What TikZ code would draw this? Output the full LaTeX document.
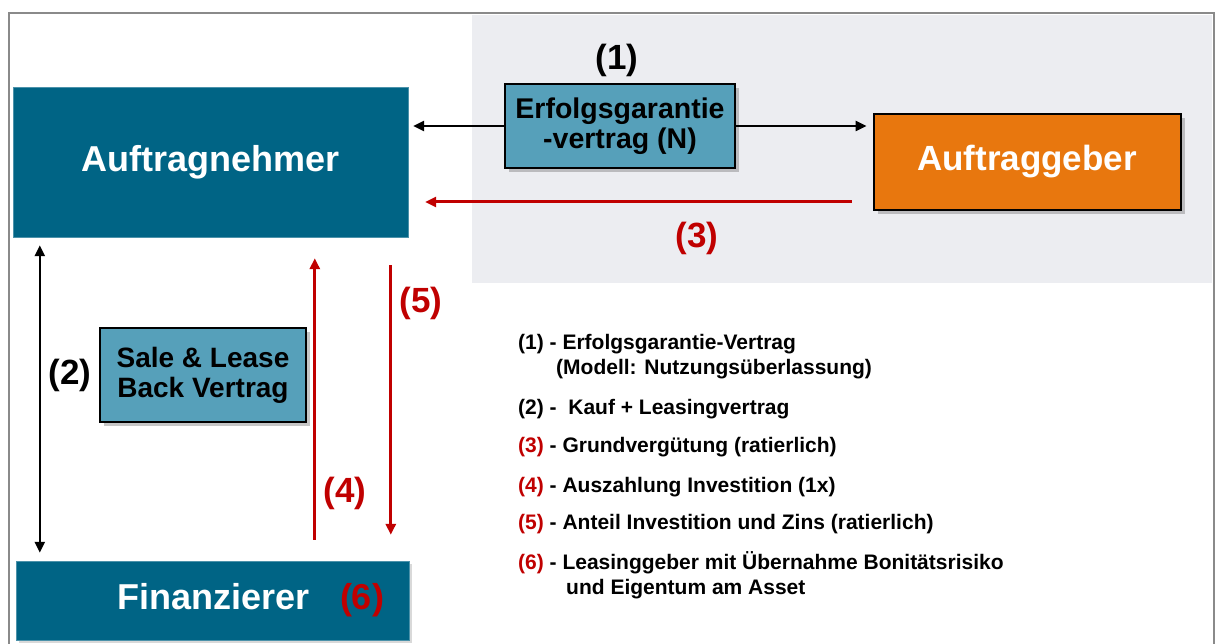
\documentclass[tikz,border=0pt]{standalone}
\usepackage{fontspec}
\setmainfont{Liberation Sans}
\usepackage{tikz}
\usetikzlibrary{arrows.meta, positioning, calc, shadows}

\definecolor{teal}{HTML}{006485}
\definecolor{lightblue}{HTML}{56A0BA}
\definecolor{orangebox}{HTML}{E8770E}
\definecolor{darkred}{HTML}{C00000}
\definecolor{bggray}{HTML}{ECEDF1}
\definecolor{framegray}{HTML}{8A8A8A}

\begin{document}
\begin{tikzpicture}[x=1pt, y=-1pt, >={Triangle[length=11pt, width=10pt]},
  bigbox/.style={fill=teal, draw=teal!70!white, text=white,
    font=\fontsize{36}{38}\selectfont\bfseries, inner sep=0pt},
  smallbox/.style={fill=lightblue, draw=black, line width=2pt, inner sep=0pt,
    font=\fontsize{28.5}{30}\selectfont\bfseries, align=center,
    drop shadow={shadow xshift=4pt, shadow yshift=-4pt, opacity=0.45}},
  num/.style={font=\fontsize{35}{36}\selectfont\bfseries},
  blk/.style={line width=2.4pt, black},
  redarr/.style={line width=3pt, darkred, ->},
  legend/.style={anchor=west, align=left, inner sep=0pt,
    font=\fontsize{21}{25}\selectfont\bfseries}]
  \useasboundingbox (0,0) rectangle (1215,644);

  % Frame and grey background
  \fill[bggray] (472,15) rectangle (1212,283);
  \draw[framegray, line width=2pt] (9,644) -- (9,13) -- (1214,13) -- (1214,644);

  % Boxes
  \node[bigbox, minimum width=395pt, minimum height=150pt] (an) at (210.5,162)
    {Auftragnehmer};
  \node[smallbox, minimum width=230pt, minimum height=84pt] (erf) at (620,126)
    {Erfolgsgarantie\\-vertrag (N)};
  \node[smallbox, fill=orangebox, text=white, minimum width=307pt,
    minimum height=96pt, font=\fontsize{35}{38}\selectfont\bfseries] (ag)
    at (1027,162) {Auftraggeber};
  \node[smallbox, font=\fontsize{28}{30}\selectfont\bfseries,
    minimum width=206pt, minimum height=94pt] (slb) at (203,375)
    {Sale \& Lease\\Back Vertrag};
  \node[bigbox, minimum width=393pt, minimum height=79pt, text width=343pt,
    align=right, inner xsep=25pt,
    drop shadow={shadow xshift=3pt, shadow yshift=-3pt, opacity=0.3}] (fin)
    at (212.5,600.5) {Finanzierer\hspace{30pt}\textcolor{darkred}{(6)}};

  % Connectors
  \draw[blk, ->, shorten >=5pt] (erf.west) -- (erf.west -| an.east);
  \draw[blk, ->, shorten >=6pt] (erf.east) -- (erf.east -| ag.west);
  \coordinate (r3) at ($(ag.south west)+(-21,-9)$);
  \draw[redarr, shorten >=17pt] (r3) -- (r3 -| an.east);
  \draw[blk, <->, shorten <=8pt, shorten >=8pt]
    ($(an.south west)+(27,0)$) -- ($(fin.north west)+(24,0)$);
  \draw[redarr, shorten <=21pt, shorten >=21pt]
    ($(fin.north west)+(299,0)$) -- ($(an.south west)+(302,0)$);
  \draw[redarr, shorten <=28pt, shorten >=26pt]
    ($(an.south west)+(378,0)$) -- ($(fin.north west)+(375,0)$);

  % Numbers
  \node[num] (n1) at (617,60) {(1)};
  \node[num, left=4pt of slb] (n2) {(2)};
  \node[num, text=darkred] (n3) at (697,238) {(3)};
  \node[num, text=darkred] (n4) at (345,493) {(4)};
  \node[num, text=darkred] (n5) at (421,303) {(5)};

  % Legend
  \node[legend] (leg1) at (518,357)
    {(1) - Erfolgsgarantie-Vertrag\\\hspace*{38pt}(Modell: Nutzungsüberlassung)};
  \node[legend] (leg2) at (518,409) {(2) - \ Kauf + Leasingvertrag};
  \node[legend] (leg3) at (518,447)
    {\textcolor{darkred}{(3)} - Grundvergütung (ratierlich)};
  \node[legend] (leg4) at (518,487)
    {\textcolor{darkred}{(4)} - Auszahlung Investition (1x)};
  \node[legend] (leg5) at (518,524)
    {\textcolor{darkred}{(5)} - Anteil Investition und Zins (ratierlich)};
  \node[legend] (leg6) at (518,575)
    {\textcolor{darkred}{(6)} - Leasinggeber mit Übernahme Bonitätsrisiko\\
     \hspace*{48pt}und Eigentum am Asset};
\end{tikzpicture}
\end{document}
